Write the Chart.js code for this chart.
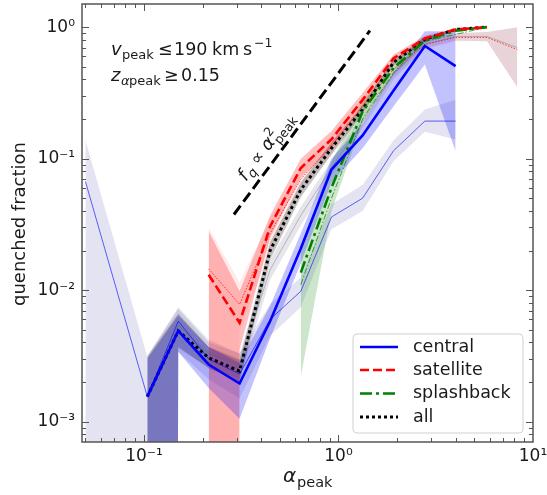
<!DOCTYPE html>
<html>
<head>
<meta charset="utf-8">
<script src="https://cdn.jsdelivr.net/npm/chart.js@4.4.1/dist/chart.umd.min.js"></script>
<style>
  html, body { margin: 0; padding: 0; background: #fff; }
</style>
</head>
<body>
<canvas id="chartFq" width="547" height="495"></canvas>
<script>
// quenched fraction vs alpha_peak (log-log)
const ZERO = 1e-100; // lower bound of 0 (open band on a log axis)

// --- thick lines (main sample) ---
const xCentral = [0.104, 0.15, 0.215, 0.31, 0.445, 0.64, 0.92, 1.33, 1.92, 2.78, 4.0];
const fqCentral   = [1.55e-3, 4.9e-3, 2.72e-3, 1.95e-3, 5.8e-3, 0.0207, 0.0826, 0.15, 0.33, 0.72, 0.505];
const fqCentralHi = [3.0e-3, 6.4e-3, 3.7e-3, 2.8e-3, 7.6e-3, 0.027, 0.10, 0.185, 0.45, 0.93, 0.93];
const fqCentralLo = [ZERO, 3.4e-3, 1.8e-3, 1.05e-3, 4.3e-3, 0.016, 0.066, 0.12, 0.25, 0.52, 0.114];

const xSat = [0.215, 0.31, 0.445, 0.64, 0.92, 1.33, 1.92, 2.78, 4.0, 5.8];
const fqSat   = [0.0131, 5.65e-3, 0.0305, 0.085, 0.14, 0.28, 0.58, 0.82, 0.96, 1.0];
const fqSatHi = [0.028, 9.8e-3, 0.037, 0.1, 0.162, 0.315, 0.62, 0.86, 0.98, 1.0];
const fqSatLo = [ZERO, 3.5e-3, 0.025, 0.072, 0.12, 0.25, 0.54, 0.78, 0.94, 1.0];

const xSplash = [0.64, 0.92, 1.33, 1.92, 2.78, 4.0, 5.8];
const fqSplash   = [0.0136, 0.060, 0.228, 0.49, 0.79, 0.94, 1.0];
const fqSplashHi = [0.0195, 0.095, 0.27, 0.54, 0.83, 0.97, 1.0];
const fqSplashLo = [2.2e-3, 0.04, 0.19, 0.44, 0.75, 0.91, 1.0];

const xAll = [0.104, 0.15, 0.215, 0.31, 0.445, 0.64, 0.92, 1.33, 1.92, 2.78, 4.0, 5.8];
const fqAll   = [1.55e-3, 4.9e-3, 3.06e-3, 2.42e-3, 0.02, 0.058, 0.12, 0.237, 0.54, 0.81, 0.96, 1.0];
const fqAllHi = [3.1e-3, 6.6e-3, 3.7e-3, 2.95e-3, 0.023, 0.066, 0.133, 0.255, 0.57, 0.84, 0.97, 1.0];
const fqAllLo = [ZERO, 3.7e-3, 2.55e-3, 2.0e-3, 0.017, 0.051, 0.108, 0.22, 0.51, 0.78, 0.95, 1.0];

// --- thin lines (second sample) ---
const xCentral2 = [0.05, 0.104, 0.15, 0.215, 0.31, 0.445, 0.64, 0.92, 1.33, 1.92, 2.78, 4.0];
const fqCentral2   = [0.067, 1.55e-3, 5.8e-3, 3.0e-3, 2.3e-3, 6.0e-3, 9.8e-3, 0.036, 0.05, 0.115, 0.193, 0.193];
const fqCentral2Hi = [0.138, 3.1e-3, 7.4e-3, 4.2e-3, 3.3e-3, 7.8e-3, 0.0125, 0.045, 0.063, 0.138, 0.236, 0.28];
const fqCentral2Lo = [ZERO, ZERO, 3.4e-3, 2.1e-3, 1.5e-3, 4.5e-3, 7.4e-3, 0.029, 0.04, 0.096, 0.16, 0.14];

const xSat2 = [0.215, 0.31, 0.445, 0.64, 0.92, 1.33, 1.92, 2.78, 4.0, 5.8, 8.3];
const fqSat2   = [0.0145, 7.8e-3, 0.027, 0.07, 0.125, 0.25, 0.48, 0.74, 0.835, 0.835, 0.676];
const fqSat2Hi = [0.03, 0.0115, 0.035, 0.085, 0.15, 0.29, 0.54, 0.8, 0.9, 0.92, 1.0];
const fqSat2Lo = [ZERO, 5.0e-3, 0.02, 0.058, 0.105, 0.21, 0.42, 0.68, 0.78, 0.78, 0.35];

const xAll2 = [0.104, 0.15, 0.215, 0.31, 0.445, 0.64, 0.92, 1.33, 1.92, 2.78, 4.0, 5.8, 8.3];
const fqAll2   = [1.6e-3, 5.4e-3, 3.3e-3, 2.7e-3, 0.0143, 0.037, 0.085, 0.19, 0.44, 0.74, 0.85, 0.85, 0.7];
const fqAll2Hi = [3.2e-3, 7.2e-3, 4.0e-3, 3.3e-3, 0.017, 0.043, 0.097, 0.21, 0.48, 0.79, 0.9, 0.92, 1.0];
const fqAll2Lo = [ZERO, 3.6e-3, 2.6e-3, 2.1e-3, 0.012, 0.031, 0.074, 0.17, 0.4, 0.69, 0.79, 0.78, 0.35];

const fqSplash2 = [0.011, 0.05, 0.2, 0.45, 0.78, 0.88, 1.0];

// f_q ∝ alpha^2 guide
const xSlope = [0.29, 1.45];
const fqSlope = [0.0376, 0.94];

const legendNames = ['central', 'satellite', 'splashback', 'all'];

const FONT = 'DejaVu Sans';
const pts = (xs, ys) => xs.map((x, i) => ({ x, y: ys[i] }));

function line(label, xs, ys, color, width, dash, order) {
  return { label, data: pts(xs, ys), borderColor: color, borderWidth: width, borderDash: dash || [],
    pointRadius: 0, fill: false, tension: 0, order };
}
function band(xs, lo, hi, color, order) {
  return [
    { label: '', data: pts(xs, lo), borderWidth: 0, borderColor: 'transparent', pointRadius: 0, fill: false, order },
    { label: '', data: pts(xs, hi), borderWidth: 0, borderColor: 'transparent', pointRadius: 0, fill: '-1', backgroundColor: color, order }
  ];
}

const datasets = [
  line('slope', xSlope, fqSlope, '#000', 3, [11, 5], 0),
  line(legendNames[0], xCentral, fqCentral, '#0000ff', 2.6, [], 1),
  line(legendNames[1], xSat, fqSat, '#ff0000', 2.6, [9, 4], 1),
  line(legendNames[2], xSplash, fqSplash, '#008000', 2.6, [12, 4, 3, 4], 1),
  line(legendNames[3], xAll, fqAll, '#000000', 3, [3, 3], 1),
  line('central2', xCentral2, fqCentral2, 'rgba(0,0,255,0.6)', 1, [], 5),
  line('satellite2', xSat2, fqSat2, 'rgba(255,0,0,0.75)', 1, [1.5, 1.5], 5),
  line('splashback2', xSplash, fqSplash2, 'rgba(0,128,0,0.7)', 1, [6, 2, 1.5, 2], 5),
  line('all2', xAll2, fqAll2, 'rgba(90,90,90,0.35)', 1, [], 5),
  ...band(xCentral, fqCentralLo, fqCentralHi, 'rgba(0,0,255,0.24)', 10),
  ...band(xSat, fqSatLo, fqSatHi, 'rgba(255,0,0,0.25)', 10),
  ...band(xSplash, fqSplashLo, fqSplashHi, 'rgba(0,128,0,0.2)', 10),
  ...band(xAll, fqAllLo, fqAllHi, 'rgba(0,0,0,0.24)', 10),
  ...band(xCentral2, fqCentral2Lo, fqCentral2Hi, 'rgba(40,40,150,0.13)', 12),
  ...band(xSat2, fqSat2Lo, fqSat2Hi, 'rgba(255,0,0,0.08)', 12),
  ...band(xAll2, fqAll2Lo, fqAll2Hi, 'rgba(50,40,90,0.12)', 12)
];

const SUP = { '0': '⁰', '1': '¹', '2': '²', '3': '³', '4': '⁴', '-': '⁻' };
const decadeLabel = v => '10' + String(Math.round(Math.log10(v))).split('').map(c => SUP[c]).join('');
function decades(min, max) {
  const out = [];
  for (let e = Math.ceil(Math.log10(min) - 1e-9); e <= Math.floor(Math.log10(max) + 1e-9); e++) out.push({ value: Math.pow(10, e) });
  return out;
}

// text made of runs (sub/superscripts)
function runs(ctx, x, y, list) {
  list.forEach(r => {
    ctx.font = r.f;
    ctx.fillText(r.t, r.x !== undefined ? r.x : x, y + (r.dy || 0));
    x = (r.x !== undefined ? r.x : x) + ctx.measureText(r.t).width;
  });
}

// inward ticks on all four sides + frame, legend and annotations
const decor = {
  id: 'decor',
  afterDatasetsDraw(chart) {
    const { ctx, chartArea: a, scales: { x: xs, y: ys } } = chart;
    ctx.save();
    ctx.strokeStyle = '#555';
    ctx.lineWidth = 1;
    const each = (min, max, fn) => {
      for (let e = Math.floor(Math.log10(min)); e <= Math.ceil(Math.log10(max)); e++) {
        for (let m = 1; m < 10; m++) {
          const v = m * Math.pow(10, e);
          if (v > min * 1.001 && v < max * 0.999) fn(v, m === 1);
        }
      }
    };
    ctx.beginPath();
    each(xs.min, xs.max, (v, major) => {
      const p = Math.round(xs.getPixelForValue(v)) + 0.5, L = major ? 7 : 4;
      ctx.moveTo(p, a.bottom); ctx.lineTo(p, a.bottom - L);
      ctx.moveTo(p, a.top); ctx.lineTo(p, a.top + L);
    });
    each(ys.min, ys.max, (v, major) => {
      const p = Math.round(ys.getPixelForValue(v)) + 0.5, L = major ? 7 : 4;
      ctx.moveTo(a.left, p); ctx.lineTo(a.left + L, p);
      ctx.moveTo(a.right, p); ctx.lineTo(a.right - L, p);
    });
    ctx.stroke();
    ctx.lineWidth = 1.5;
    ctx.strokeRect(a.left, a.top, a.right - a.left, a.bottom - a.top);
    ctx.restore();
  },
  afterDraw(chart) {
    const { ctx } = chart;
    ctx.save();
    ctx.fillStyle = '#1a1a1a';
    ctx.textBaseline = 'alphabetic';
    const F = (s, it) => (it ? 'italic ' : '') + s + 'px "' + FONT + '"';

    // annotation text
    runs(ctx, 112, 55, [
      { t: 'v', f: F(18, true), x: 111 },
      { t: 'peak', f: F(13), dy: 4, x: 122 },
      { t: '≤', f: F(17.5), x: 158 },
      { t: '190', f: F(17.5), x: 174 },
      { t: 'km', f: F(17.5), x: 212 },
      { t: 's', f: F(17.5), x: 243 },
      { t: '−1', f: F(12.5), dy: -8, x: 254 }
    ]);
    runs(ctx, 112, 81, [
      { t: 'z', f: F(18, true), x: 111 },
      { t: 'α', f: F(13, true), dy: 4, x: 121 },
      { t: 'peak', f: F(13), dy: 4, x: 129 },
      { t: '≥', f: F(17.5), x: 164 },
      { t: '0.15', f: F(17.5), x: 181 }
    ]);

    // rotated f_q ∝ alpha^2_peak
    ctx.save();
    ctx.translate(246, 182);
    ctx.rotate(-53 * Math.PI / 180);
    runs(ctx, 0, 0, [
      { t: 'f', f: F(18, true), x: 0 },
      { t: 'q', f: F(13, true), dy: 4, x: 7 },
      { t: '∝', f: F(17.5), x: 20 },
      { t: 'α', f: F(18, true), x: 38 }
    ]);
    ctx.font = F(12.5); ctx.fillText('2', 50, -8);
    ctx.font = F(12.5); ctx.fillText('peak', 50, 5);
    ctx.restore();

    // axis titles
    ctx.font = F(18);
    ctx.save();
    ctx.translate(25, 224);
    ctx.rotate(-Math.PI / 2);
    ctx.textAlign = 'center';
    ctx.fillText('quenched fraction', 0, 0);
    ctx.restore();
    runs(ctx, 283, 482, [
      { t: 'α', f: F(20, true), x: 283 },
      { t: 'peak', f: F(14.5), dy: 5, x: 297 }
    ]);

    // legend
    const bx = 353, by = 334, bw = 170, bh = 99;
    ctx.beginPath();
    ctx.roundRect(bx, by, bw, bh, 4);
    ctx.fillStyle = 'rgba(255,255,255,0.85)';
    ctx.fill();
    ctx.strokeStyle = '#d0d0d0';
    ctx.lineWidth = 1;
    ctx.stroke();
    const rows = [347, 370, 393.5, 417];
    legendNames.forEach((name, i) => {
      const ds = chart.data.datasets.find(d => d.label === name);
      ctx.beginPath();
      ctx.setLineDash(ds.borderDash);
      ctx.strokeStyle = ds.borderColor;
      ctx.lineWidth = ds.borderWidth;
      ctx.moveTo(360, rows[i]); ctx.lineTo(398, rows[i]);
      ctx.stroke();
      ctx.setLineDash([]);
      ctx.fillStyle = '#1a1a1a';
      ctx.font = F(17.5);
      ctx.textBaseline = 'middle';
      ctx.fillText(name, 413, rows[i]);
    });
    ctx.restore();
  }
};

const tickFont = { family: FONT, size: 17 };

new Chart(document.getElementById('chartFq'), {
  type: 'line',
  data: { datasets },
  options: {
    responsive: false,
    animation: false,
    events: [],
    layout: { padding: { left: 0, right: 14, top: 4, bottom: 0 } },
    plugins: { legend: { display: false }, tooltip: { enabled: false } },
    scales: {
      x: {
        type: 'logarithmic', min: 0.048, max: 10,
        grid: { display: false, drawTicks: false }, border: { display: false },
        ticks: { font: tickFont, color: '#1a1a1a', padding: 4, maxRotation: 0, autoSkip: false, callback: decadeLabel },
        afterBuildTicks: s => { s.ticks = decades(s.min, s.max); },
        afterFit: s => { s.height = 53; s.paddingLeft = 0; s.paddingRight = 0; }
      },
      y: {
        type: 'logarithmic', min: 7e-4, max: 1.5,
        grid: { display: false, drawTicks: false }, border: { display: false },
        ticks: { font: tickFont, color: '#1a1a1a', padding: 7, autoSkip: false, callback: decadeLabel },
        afterBuildTicks: s => { s.ticks = decades(s.min, s.max); },
        afterFit: s => { s.width = 82; s.paddingTop = 0; s.paddingBottom = 0; }
      }
    }
  },
  plugins: [decor]
});
</script>
</body>
</html>
